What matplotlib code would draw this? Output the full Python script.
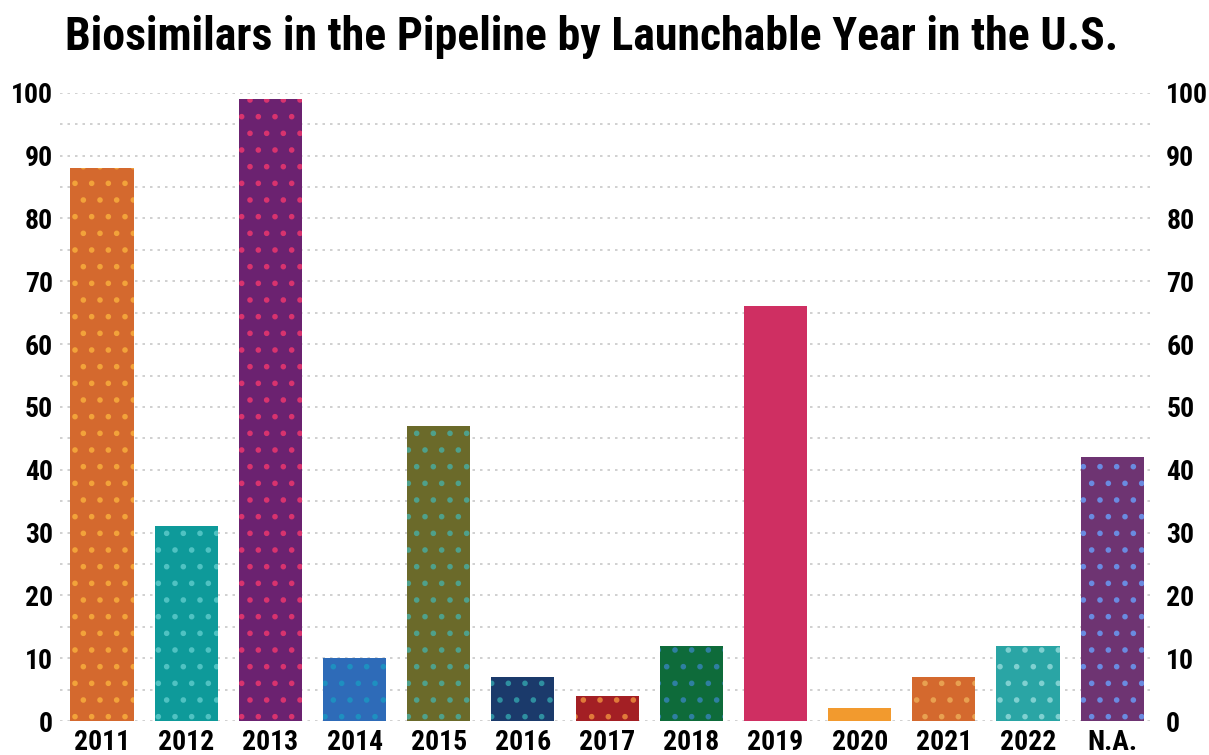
import matplotlib
matplotlib.use("Agg")
import matplotlib.pyplot as plt
from matplotlib.ticker import MultipleLocator

# values
years = ["2011", "2012", "2013", "2014", "2015", "2016", "2017",
         "2018", "2019", "2020", "2021", "2022", "N.A."]
counts = [88, 31, 99, 10, 47, 7, 4, 12, 66, 2, 7, 12, 42]
colors = ["#D4692E", "#0E9A9A", "#6B2270", "#2E6BB8", "#6B6A2A", "#1B3A6B",
          "#A31F24", "#0E6B3A", "#CF2F62", "#F29A2E", "#D4692E", "#2AA5A5",
          "#6E3472"]
dot_colors = ["#F2A23A", "#4FC2C2", "#D8336E", "#1E8FC0", "#4FA08A", "#2E8FA0",
              "#E07A3A", "#2E7FA0", "#CF2F62", "#F29A2E", "#E8A050", "#7FD0D0",
              "#6A8AE0"]

plt.rcParams["font.family"] = ["Roboto Condensed", "Liberation Sans", "DejaVu Sans"]
plt.rcParams["hatch.linewidth"] = 1.6

fig = plt.figure(figsize=(12.09, 7.55), dpi=100)
ax = fig.add_axes([0.0496, 0.045, 0.9058, 0.832])

x = range(len(years))
bars = ax.bar(x, counts, width=0.75, color=colors, linewidth=0, zorder=3)
for b, dc in zip(bars, dot_colors):
    b.set_hatch(".")
    b.set_edgecolor(dc)

ax.set_xlim(-0.5, len(years) - 0.49)
ax.set_ylim(0, 100)
ax.yaxis.set_major_locator(MultipleLocator(10))
ax.yaxis.set_minor_locator(MultipleLocator(5))
ax.grid(axis="y", which="both", linestyle=(0, (1.5, 3)), color="#c8c8c8",
        linewidth=1.2, zorder=0)
for s in ax.spines.values():
    s.set_visible(False)

ax.set_xticks(list(x))
ax.set_xticklabels(years, fontsize=20, fontweight="bold")
ax.tick_params(axis="x", length=0, pad=6)
ax.tick_params(axis="y", which="both", length=0, labelsize=20, pad=5)
for lbl in ax.get_yticklabels():
    lbl.set_fontweight("bold")

# right-hand copy of the value axis
ax2 = ax.twinx()
ax2.set_ylim(ax.get_ylim())
ax2.yaxis.set_major_locator(MultipleLocator(10))
ax2.tick_params(axis="y", length=0, labelsize=20, pad=8)
for lbl in ax2.get_yticklabels():
    lbl.set_fontweight("bold")
for s in ax2.spines.values():
    s.set_visible(False)

fig.text(0.489, 0.934, "Biosimilars in the Pipeline by Launchable Year in the U.S.",
         ha="center", va="baseline", fontsize=33, fontweight="bold")

fig.savefig("out.png", dpi=100)
